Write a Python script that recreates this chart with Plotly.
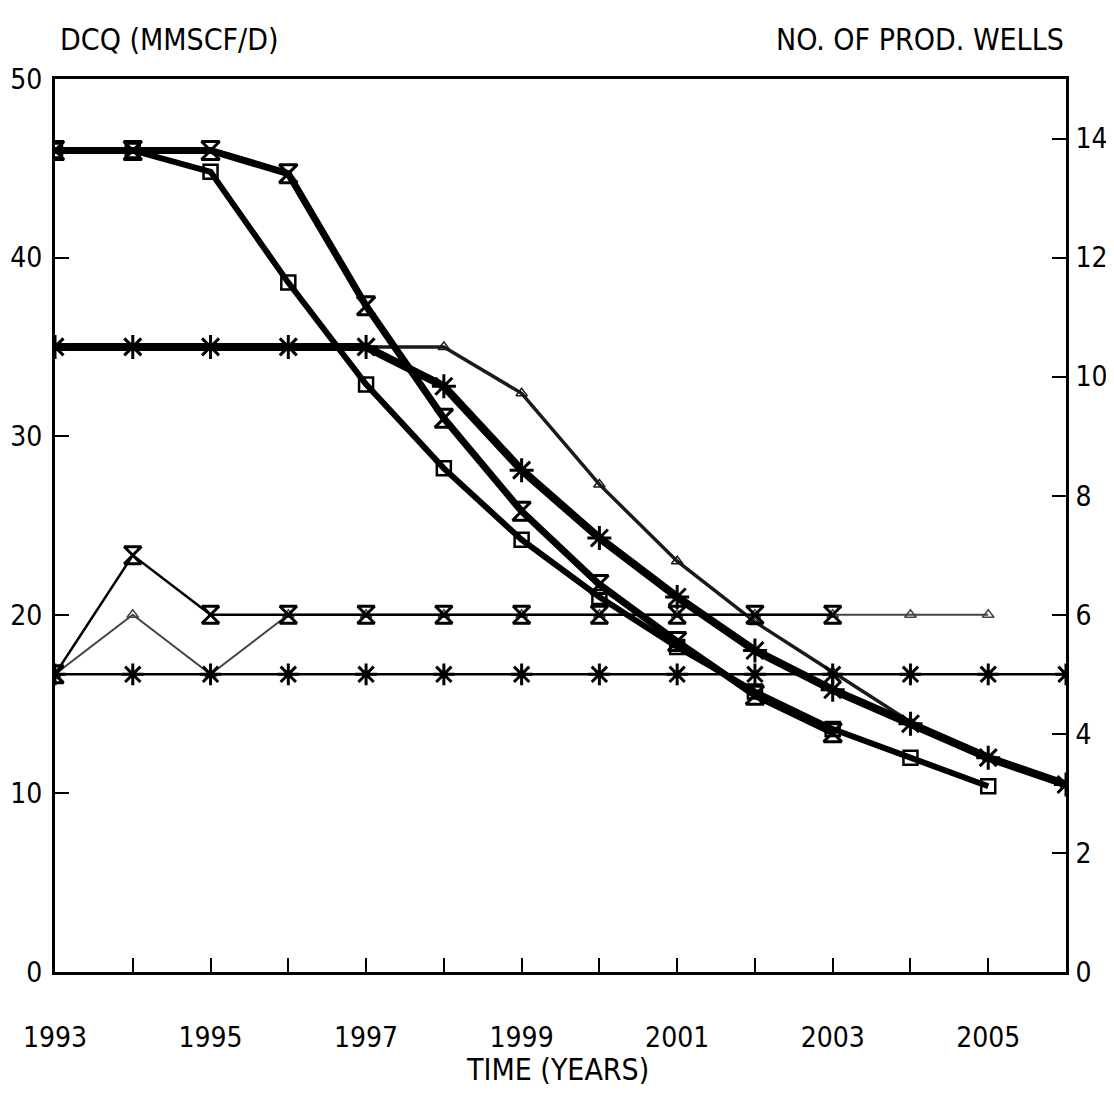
import plotly.graph_objects as go

# ---- data ----
years_bowtie = [1993, 1994, 1995, 1996, 1997, 1998, 1999, 2000, 2001, 2002, 2003]
dcq_bowtie = [46, 46, 46, 44.7, 37.3, 31.0, 25.8, 21.7, 18.5, 15.5, 13.4]

years_square = [1993, 1994, 1995, 1996, 1997, 1998, 1999, 2000, 2001, 2002, 2003, 2004, 2005]
dcq_square = [46, 46, 44.8, 38.6, 32.9, 28.2, 24.2, 21.0, 18.2, 15.7, 13.6, 12.0, 10.4]

years_asterisk = [1993, 1994, 1995, 1996, 1997, 1998, 1999, 2000, 2001, 2002, 2003, 2004, 2005, 2006]
dcq_asterisk = [35, 35, 35, 35, 35, 32.8, 28.1, 24.3, 21.0, 18.0, 15.8, 13.9, 12.0, 10.5]

years_triangle = [1993, 1994, 1995, 1996, 1997, 1998, 1999, 2000, 2001, 2002, 2003, 2004, 2005, 2006]
dcq_triangle = [35, 35, 35, 35, 35, 35, 32.4, 27.3, 23.0, 19.6, 16.8, 14.0, 12.0, 10.5]

wells_years_bowtie = [1993, 1994, 1995, 1996, 1997, 1998, 1999, 2000, 2001, 2002, 2003]
wells_bowtie = [5, 7, 6, 6, 6, 6, 6, 6, 6, 6, 6]

wells_years_triangle = [1993, 1994, 1995, 1996, 1997, 1998, 1999, 2000, 2001, 2002, 2003, 2004, 2005]
wells_triangle = [5, 6, 5, 6, 6, 6, 6, 6, 6, 6, 6, 6, 6]

wells_years_asterisk = [1993, 1994, 1995, 1996, 1997, 1998, 1999, 2000, 2001, 2002, 2003, 2004, 2005, 2006]
wells_asterisk = [5, 5, 5, 5, 5, 5, 5, 5, 5, 5, 5, 5, 5, 5]

x_tick_vals = [1993, 1995, 1997, 1999, 2001, 2003, 2005]
x_tick_text = ["1993", "1995", "1997", "1999", "2001", "2003", "2005"]
left_tick_vals = [0, 10, 20, 30, 40, 50]
right_tick_vals = [0, 2, 4, 6, 8, 10, 12, 14]

FONT = "DejaVu Sans Condensed, Liberation Sans Narrow, Roboto Condensed, sans-serif"
BLACK = "#000000"

fig = go.Figure()

# ---- wells (right axis) ----
fig.add_trace(go.Scatter(
    x=wells_years_triangle, y=wells_triangle, yaxis="y2", mode="lines+markers",
    line=dict(color="#444444", width=2),
    marker=dict(symbol="triangle-up-open", size=10, color="#444444", line=dict(width=1.5)),
    showlegend=False))
fig.add_trace(go.Scatter(
    x=wells_years_asterisk, y=wells_asterisk, yaxis="y2", mode="lines+markers",
    line=dict(color=BLACK, width=2.5),
    marker=dict(symbol="asterisk-open", size=18, color=BLACK, line=dict(width=3, color=BLACK)),
    showlegend=False))
fig.add_trace(go.Scatter(
    x=wells_years_bowtie, y=wells_bowtie, yaxis="y2", mode="lines+markers",
    line=dict(color=BLACK, width=2.5),
    marker=dict(symbol="hourglass-open", size=17, color=BLACK, line=dict(width=3, color=BLACK)),
    showlegend=False))

# ---- DCQ (left axis) ----
fig.add_trace(go.Scatter(
    x=years_triangle, y=dcq_triangle, mode="lines+markers",
    line=dict(color="#1a1a1a", width=3.5),
    marker=dict(symbol="triangle-up-open", size=10, color="#1a1a1a", line=dict(width=1.5)),
    showlegend=False))
fig.add_trace(go.Scatter(
    x=years_square, y=dcq_square, mode="lines+markers",
    line=dict(color=BLACK, width=6),
    marker=dict(symbol="square-open", size=14, color=BLACK, line=dict(width=2.5, color=BLACK)),
    showlegend=False))
fig.add_trace(go.Scatter(
    x=years_asterisk, y=dcq_asterisk, mode="lines+markers",
    line=dict(color=BLACK, width=8),
    marker=dict(symbol="asterisk-open", size=20, color=BLACK, line=dict(width=3, color=BLACK)),
    showlegend=False))
fig.add_trace(go.Scatter(
    x=years_bowtie, y=dcq_bowtie, mode="lines+markers",
    line=dict(color=BLACK, width=7),
    marker=dict(symbol="hourglass-open", size=18, color=BLACK, line=dict(width=3, color=BLACK)),
    showlegend=False))

tickfont = dict(family=FONT, size=28, color=BLACK)

fig.update_layout(
    width=1106, height=1083,
    margin=dict(l=47, r=48, t=71, b=119),
    paper_bgcolor="white", plot_bgcolor="white",
    font=dict(family=FONT, color=BLACK),
    xaxis=dict(
        range=[1993, 2006], tickvals=x_tick_vals, ticktext=x_tick_text,
        ticks="inside", ticklen=14, tickwidth=2, tickcolor=BLACK,
        minor=dict(dtick=1, tick0=1993, ticks="inside", ticklen=14, tickwidth=2, tickcolor=BLACK),
        showgrid=False, zeroline=False, showline=True, linecolor=BLACK, linewidth=3,
        mirror=True, tickfont=tickfont, automargin=False, ticklabelstandoff=38),
    yaxis=dict(
        range=[0, 50], tickvals=left_tick_vals,
        ticks="inside", ticklen=14, tickwidth=2, tickcolor=BLACK,
        showgrid=False, zeroline=False, showline=True, linecolor=BLACK, linewidth=3,
        tickfont=tickfont, automargin=False, ticklabelstandoff=4),
    yaxis2=dict(
        range=[0, 15], tickvals=right_tick_vals, overlaying="y", side="right",
        ticks="inside", ticklen=14, tickwidth=2, tickcolor=BLACK,
        showgrid=False, zeroline=False, showline=True, linecolor=BLACK, linewidth=3,
        tickfont=tickfont, automargin=False, ticklabelstandoff=1),
    annotations=[
        dict(text="DCQ (MMSCF/D)", xref="paper", yref="paper", x=0.003, y=1.0, yshift=20,
             xanchor="left", yanchor="bottom", showarrow=False,
             font=dict(family=FONT, size=30, color=BLACK)),
        dict(text="NO. OF PROD. WELLS", xref="paper", yref="paper", x=1.0, y=1.0, yshift=20,
             xanchor="right", yanchor="bottom", showarrow=False,
             font=dict(family=FONT, size=30, color=BLACK)),
        dict(text="TIME (YEARS)", xref="paper", yref="paper", x=0.497, y=0, yshift=-78,
             xanchor="center", yanchor="top", showarrow=False,
             font=dict(family=FONT, size=30, color=BLACK)),
    ],
)

fig.write_html("out.html")
